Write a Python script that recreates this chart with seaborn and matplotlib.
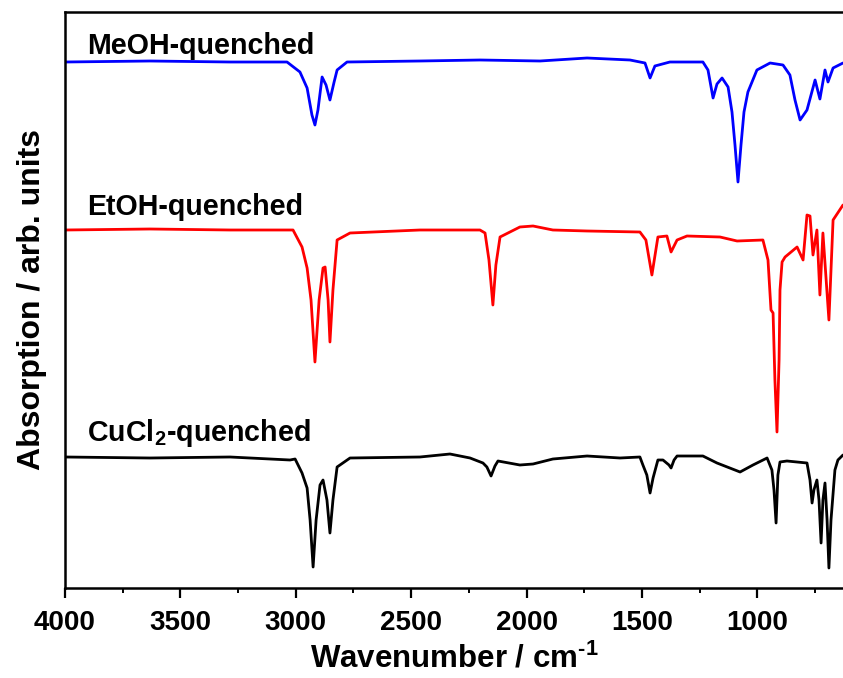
import numpy as np
import pandas as pd
import matplotlib
matplotlib.use("Agg")
import matplotlib.pyplot as plt
import seaborn as sns
from matplotlib.ticker import MultipleLocator

# ---- FTIR spectra (wavenumber in cm^-1, relative absorption, baseline = 0) ----
samples = ["MeOH-quenched", "EtOH-quenched", "CuCl$_2$-quenched"]
colors = ["#0000ff", "#ff0000", "#000000"]
offsets = [5.26, 3.58, 1.31]

meoh_wn = [4000, 3632, 3285, 3038, 2982, 2951, 2930, 2917, 2904, 2886, 2869,
           2852, 2834, 2821, 2778, 2462, 2202, 1942, 1738, 1552, 1487, 1465,
           1444, 1379, 1236, 1214, 1192, 1175, 1153, 1127, 1110, 1097, 1084,
           1071, 1058, 1041, 1002, 945, 889, 859, 837, 815, 785, 750, 729, 707,
           694, 672, 629]
meoh_abs = [0.00, 0.01, 0.00, 0.00, -0.10, -0.26, -0.53, -0.63, -0.48, -0.15,
            -0.23, -0.38, -0.20, -0.08, 0.00, 0.01, 0.02, 0.01, 0.04, 0.02,
            -0.01, -0.16, -0.04, 0.00, 0.00, -0.08, -0.36, -0.22, -0.16, -0.25,
            -0.50, -0.83, -1.20, -0.83, -0.50, -0.30, -0.08, -0.01, -0.03,
            -0.13, -0.38, -0.58, -0.48, -0.18, -0.37, -0.08, -0.20, -0.06, -0.01]

etoh_wn = [4000, 3632, 3285, 3012, 2973, 2951, 2934, 2917, 2899, 2882, 2873,
           2860, 2852, 2839, 2821, 2765, 2462, 2202, 2180, 2163, 2146, 2133,
           2115, 2029, 1972, 1886, 1738, 1509, 1483, 1457, 1431, 1392, 1374,
           1348, 1305, 1162, 1088, 976, 954, 941, 932, 924, 915, 906, 902,
           893, 880, 828, 802, 785, 772, 759, 742, 729, 716, 690, 672, 629]
etoh_abs = [0.00, 0.01, 0.00, 0.00, -0.17, -0.38, -0.70, -1.32, -0.70, -0.38,
            -0.37, -0.70, -1.12, -0.60, -0.10, -0.03, 0.00, 0.00, -0.03, -0.30,
            -0.75, -0.35, -0.07, 0.03, 0.04, 0.00, -0.01, -0.02, -0.10, -0.45,
            -0.07, -0.06, -0.22, -0.10, -0.06, -0.07, -0.11, -0.10, -0.30,
            -0.80, -0.83, -1.50, -2.02, -1.30, -0.60, -0.32, -0.27, -0.17,
            -0.30, 0.15, 0.14, -0.25, 0.00, -0.65, -0.03, -0.90, 0.10, 0.25]

cucl2_wn = [4000, 3632, 3285, 3025, 3003, 2973, 2951, 2938, 2925, 2912, 2895,
            2882, 2865, 2852, 2839, 2821, 2765, 2462, 2332, 2245, 2189, 2172,
            2154, 2137, 2124, 2029, 1972, 1886, 1738, 1595, 1509, 1496, 1479,
            1465, 1452, 1431, 1409, 1383, 1374, 1361, 1348, 1236, 1175, 1075,
            1019, 958, 937, 928, 919, 911, 902, 872, 785, 772, 763, 755, 742,
            733, 724, 716, 707, 698, 690, 681, 664, 651, 629]
cucl2_abs = [0.00, -0.01, 0.00, -0.03, -0.02, -0.16, -0.31, -0.63, -1.10,
             -0.63, -0.28, -0.23, -0.43, -0.76, -0.43, -0.10, -0.01, 0.00, 0.03,
             -0.01, -0.06, -0.10, -0.19, -0.09, -0.04, -0.08, -0.07, -0.02,
             0.01, -0.01, 0.00, -0.08, -0.18, -0.36, -0.21, -0.03, -0.03, -0.08,
             -0.11, -0.03, 0.01, 0.01, -0.06, -0.15, -0.08, -0.01, -0.13, -0.33,
             -0.66, -0.18, -0.05, -0.04, -0.06, -0.23, -0.46, -0.33, -0.23,
             -0.43, -0.86, -0.43, -0.26, -0.63, -1.11, -0.63, -0.13, -0.03, 0.02]

spectra_wn = [meoh_wn, etoh_wn, cucl2_wn]
spectra_abs = [meoh_abs, etoh_abs, cucl2_abs]

# ---- assemble a long-form table with stacked traces ----
frames = []
for name, wn, ab, off in zip(samples, spectra_wn, spectra_abs, offsets):
    frames.append(pd.DataFrame({
        "wavenumber": wn,
        "absorption": np.asarray(ab) + off,
        "sample": name,
    }))
df = pd.concat(frames, ignore_index=True)

# ---- style ----
sns.set_style("white")
plt.rcParams["font.family"] = ["Liberation Sans", "DejaVu Sans"]
plt.rcParams["font.weight"] = "bold"
plt.rcParams["text.color"] = "black"
plt.rcParams["axes.labelcolor"] = "black"
plt.rcParams["xtick.color"] = "black"
plt.rcParams["mathtext.fontset"] = "custom"
plt.rcParams["mathtext.rm"] = "Liberation Sans:bold"
plt.rcParams["mathtext.bf"] = "Liberation Sans:bold"
plt.rcParams["mathtext.default"] = "bf"

fig = plt.figure(figsize=(8.43, 6.78), dpi=100)
ax = fig.add_axes([65 / 843, 1 - 588 / 678, 1 - 65 / 843, 576 / 678])

sns.lineplot(data=df, x="wavenumber", y="absorption", hue="sample",
             hue_order=samples, palette=colors, sort=False, estimator=None,
             units="sample", legend=False, linewidth=2.0, ax=ax)

ax.set_xlim(4000, 629)
ax.set_ylim(0, 5.76)

ax.xaxis.set_major_locator(MultipleLocator(500))
ax.xaxis.set_minor_locator(MultipleLocator(250))
ax.tick_params(axis="x", which="major", direction="out", length=7, width=1.6,
               labelsize=20, pad=9, bottom=True, colors="black")
ax.tick_params(axis="x", which="minor", direction="out", length=3.5,
               width=1.4, bottom=True, colors="black")
ax.set_yticks([])
for lab in ax.get_xticklabels():
    lab.set_fontweight("bold")

for side in ["left", "bottom", "top"]:
    ax.spines[side].set_linewidth(1.8)
    ax.spines[side].set_color("black")
ax.spines["right"].set_visible(False)

ax.set_xlabel(r"Wavenumber / cm$^{\text{-1}}$", fontsize=22.5,
              fontweight="bold", labelpad=5)
ax.set_ylabel("Absorption / arb. units", fontsize=23, fontweight="bold",
              labelpad=13)

# sample names above each trace
label_y = [5.34, 3.73, 1.47]
for name, y in zip(samples, label_y):
    ax.text(3905, y, name, fontsize=20.6, fontweight="bold",
            ha="left", va="baseline", color="black")

fig.savefig("out.png", dpi=100)
